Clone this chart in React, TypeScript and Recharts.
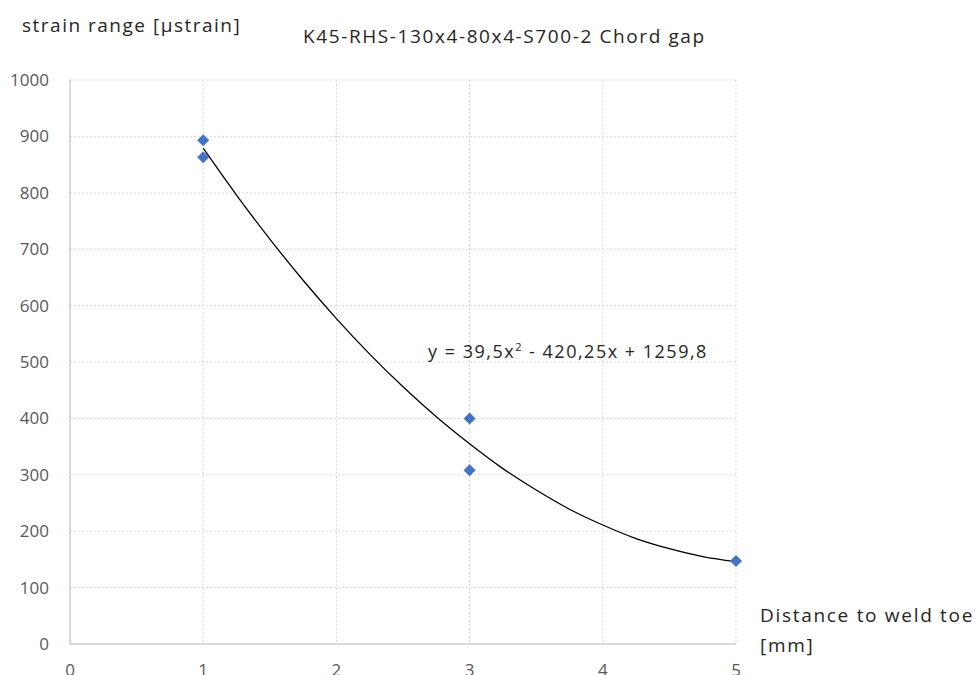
import {
  CartesianGrid,
  ComposedChart,
  Line,
  Scatter,
  XAxis,
  YAxis,
} from "recharts";

// measured points
const distance = [1, 1, 3, 3, 5];
const strain = [893, 863, 400, 308, 147];

// trend line y = 39,5x² - 420,25x + 1259,8 read at quarter steps
const trendX = [1, 1.25, 1.5, 1.75, 2, 2.25, 2.5, 2.75, 3, 3.25, 3.5, 3.75, 4, 4.25, 4.5, 4.75, 5];
const trendY = [879, 796, 718, 645, 577, 514, 456, 403, 355, 311, 273, 239, 211, 187, 169, 155, 146];

const xTicks = [0, 1, 2, 3, 4, 5];
const yTicks = [0, 100, 200, 300, 400, 500, 600, 700, 800, 900, 1000];

const points = distance.map((x, i) => ({ x, y: strain[i] }));
const trend = trendX.map((x, i) => ({ x, y: trendY[i] }));

const FONT = "'Open Sans', sans-serif";

const Diamond = (props: any) => {
  const { cx, cy } = props;
  const r = 6;
  return (
    <polygon
      points={`${cx},${cy - r} ${cx + r},${cy} ${cx},${cy + r} ${cx - r},${cy}`}
      fill="#4472c4"
    />
  );
};

const textStyle = {
  position: "absolute" as const,
  color: "#262626",
  whiteSpace: "nowrap" as const,
  lineHeight: 1,
};

export default function App() {
  return (
    <div
      style={{
        position: "absolute",
        left: 0,
        top: 0,
        width: 977,
        height: 675,
        background: "#fff",
        fontFamily: FONT,
        overflow: "hidden",
      }}
    >
      <ComposedChart
        width={977}
        height={675}
        margin={{ top: 80, right: 241, left: 10, bottom: 1 }}
      >
        <CartesianGrid stroke="#d9d9d9" strokeDasharray="2 2" />
        <XAxis
          type="number"
          dataKey="x"
          domain={[0, 5]}
          ticks={xTicks}
          height={30}
          axisLine={{ stroke: "#bfbfbf" }}
          tickLine={false}
          tick={{ fontSize: 17, fill: "#595959", fontFamily: FONT }}
          tickMargin={14}
        />
        <YAxis
          type="number"
          dataKey="y"
          domain={[0, 1000]}
          ticks={yTicks}
          width={60}
          axisLine={{ stroke: "#bfbfbf" }}
          tickLine={false}
          tick={{ fontSize: 17, fill: "#595959", fontFamily: FONT }}
          tickMargin={15}
        />
        <Line
          data={trend}
          dataKey="y"
          type="monotone"
          stroke="#000"
          strokeWidth={1.3}
          dot={false}
          isAnimationActive={false}
        />
        <Scatter
          data={points}
          dataKey="y"
          shape={Diamond}
          isAnimationActive={false}
        />
      </ComposedChart>
      <div style={{ ...textStyle, left: 22, top: 16, fontSize: 19, letterSpacing: 1.5 }}>
        strain range [µstrain]
      </div>
      <div style={{ ...textStyle, left: 303, top: 27, fontSize: 19, letterSpacing: 1.6 }}>
        K45-RHS-130x4-80x4-S700-2 Chord gap
      </div>
      <div style={{ ...textStyle, left: 428, top: 341, fontSize: 18, letterSpacing: 1.5 }}>
        y = 39,5x<sup style={{ fontSize: 11, verticalAlign: "7px" }}>2</sup> - 420,25x + 1259,8
      </div>
      <div
        style={{
          ...textStyle,
          left: 760,
          top: 600,
          fontSize: 19,
          lineHeight: "30px",
          letterSpacing: 1.7,
        }}
      >
        Distance to weld toe
        <br />
        [mm]
      </div>
    </div>
  );
}
